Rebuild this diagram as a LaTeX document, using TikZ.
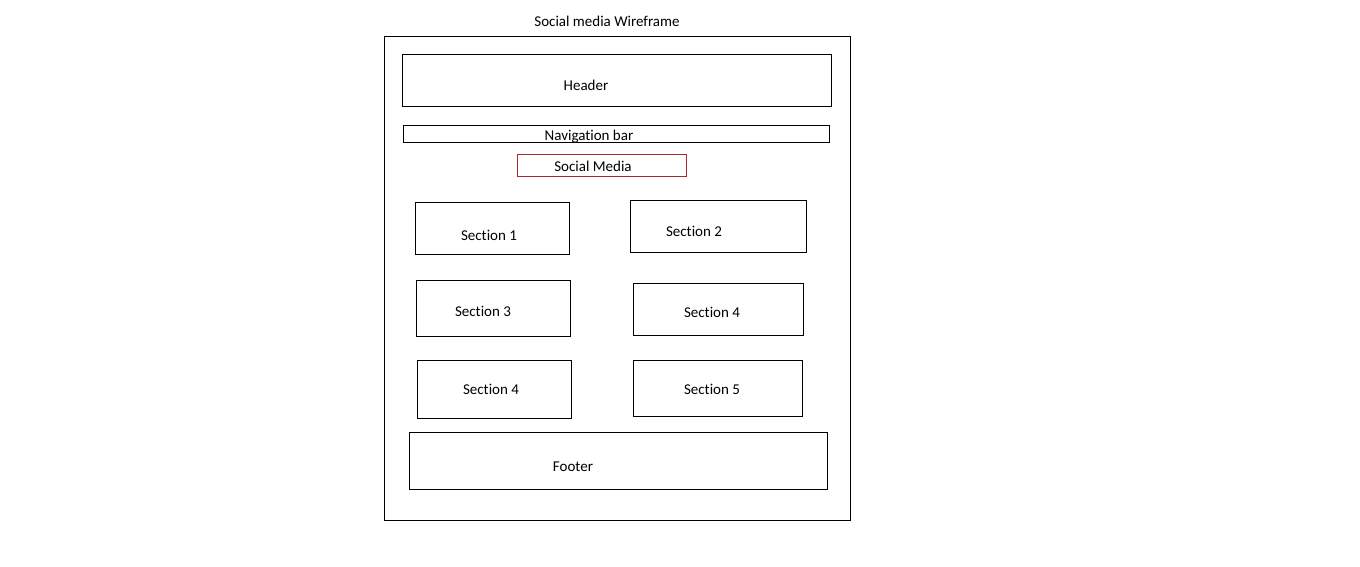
\documentclass[tikz,border=0pt]{standalone}
\usepackage{fontspec}
\setmainfont{Carlito}[Ligatures=NoCommon]
\definecolor{boxred}{RGB}{170,40,50}
\begin{document}
\begin{tikzpicture}[x=1pt,y=-1pt,
  box/.style={draw=black,line width=0.9pt,rectangle,inner sep=0pt,anchor=north west},
  redbox/.style={box,draw=boxred},
  txt/.style={inner sep=0pt,font=\fontsize{15}{18}\selectfont,anchor=center}]
\useasboundingbox (0,0) rectangle (1360,567);
\node[box,minimum width=466pt,minimum height=484pt] (outer) at (384,36) {};
\node[box,minimum width=429pt,minimum height=52pt] (header) at (402,54) {};
\node[box,minimum width=426pt,minimum height=17pt] (nav) at (403,125) {};
\node[redbox,minimum width=169pt,minimum height=22pt] (social) at (517,154) {};
\node[box,minimum width=154pt,minimum height=52pt] (s1) at (415,202) {};
\node[box,minimum width=176pt,minimum height=52pt] (s2) at (630,200) {};
\node[box,minimum width=154pt,minimum height=56pt] (s3) at (416,280) {};
\node[box,minimum width=170pt,minimum height=52pt] (s4r) at (633,283) {};
\node[box,minimum width=154pt,minimum height=58pt] (s4l) at (417,360) {};
\node[box,minimum width=169pt,minimum height=56pt] (s5) at (633,360) {};
\node[box,minimum width=418pt,minimum height=57pt] (footer) at (409,432) {};
\node[txt] (title) at (607,21) {Social media Wireframe};
\node[txt] (headert) at (586,85) {Header};
\node[txt] (navt) at (589,137) {Navigation bar};
\node[txt] (socialt) at (593,166) {Social Media};
\node[txt] (s1t) at (489,235) {Section 1};
\node[txt] (s2t) at (694,231) {Section 2};
\node[txt] (s3t) at (483,311) {Section 3};
\node[txt] (s4rt) at (712,312) {Section 4};
\node[txt] (s4lt) at (491,389) {Section 4};
\node[txt] (s5t) at (712,389) {Section 5};
\node[txt] (footert) at (573,467) {Footer};
\end{tikzpicture}
\end{document}
